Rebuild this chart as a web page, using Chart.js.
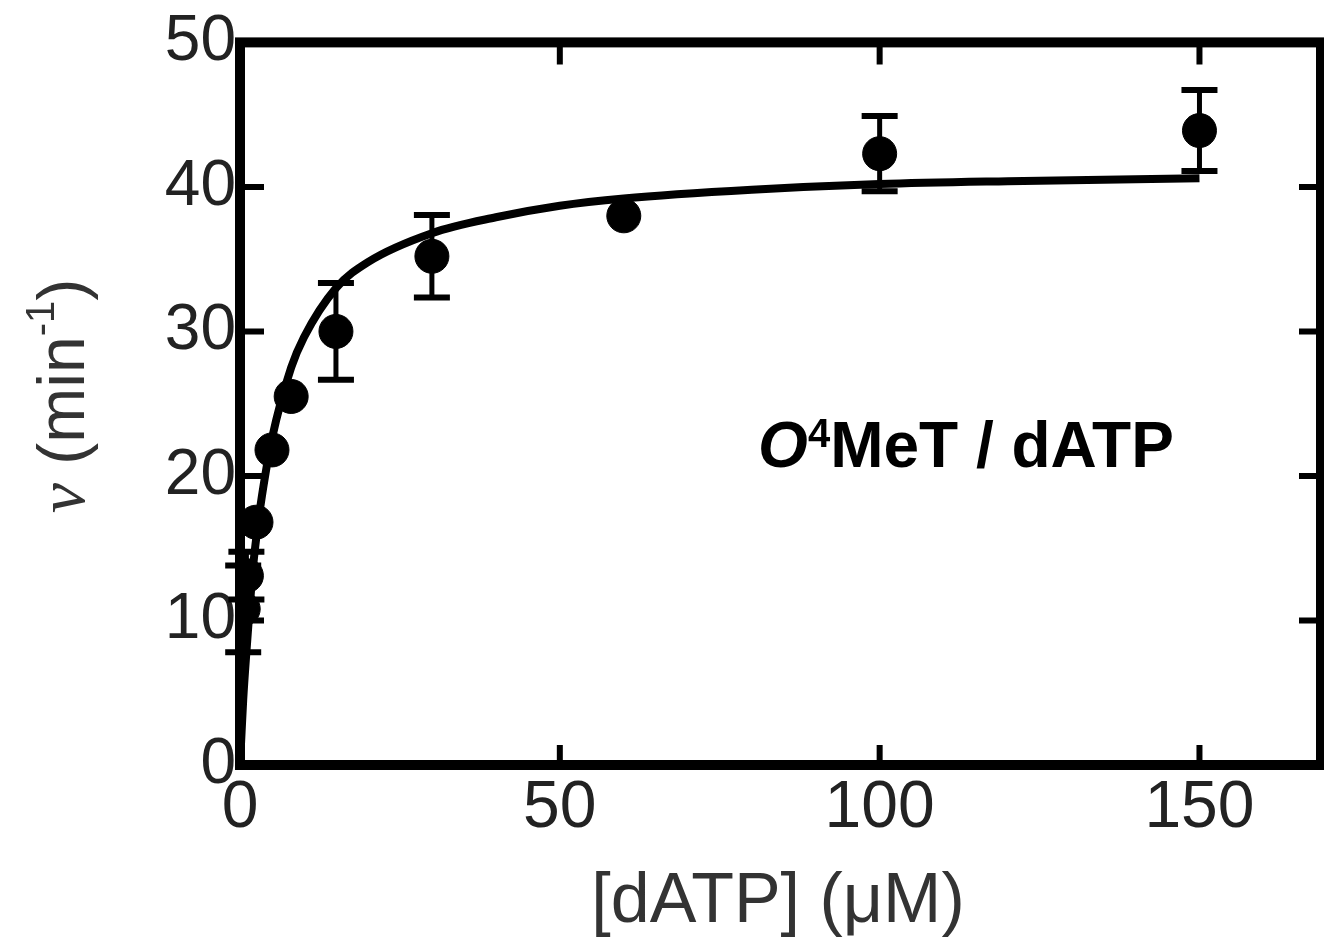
<!DOCTYPE html>
<html>
<head>
<meta charset="utf-8">
<style>
  html, body { margin: 0; padding: 0; background: #fff; }
</style>
<script src="https://cdn.jsdelivr.net/npm/chart.js@4/dist/chart.umd.min.js"></script>
</head>
<body>
<canvas id="kinetics" width="1324" height="944"></canvas>
<script>
// measured points: [dATP] (uM), rate v (1/min), error
const concentrations = [0.5, 1, 2.5, 5, 8, 15, 30, 60, 100, 150];
const rates = [10.8, 13.1, 16.8, 21.8, 25.5, 30.0, 35.2, 38.0, 42.3, 43.9];
const rateErrors = [3.0, 1.65, 0, 0, 0, 3.35, 2.85, 0, 2.6, 2.8];

// fitted curve
const fitX = [0, 0.25, 0.5, 1, 2, 3, 4, 5, 8, 10, 15, 20, 30, 40, 50, 60, 80, 100, 120, 150];
const fitY = [0, 2.3, 4.5, 7.8, 13.5, 17.3, 20.2, 22.6, 27.5, 29.6, 33.0, 34.8, 36.8, 37.9, 38.7, 39.2, 39.8, 40.2, 40.4, 40.6];

const xTicks = [0, 50, 100, 150];
const yTicks = [0, 10, 20, 30, 40, 50];

const FONT = "'Liberation Sans', Arial, sans-serif";

const toXY = (xs, ys) => xs.map((x, i) => ({ x: x, y: ys[i] }));

const figurePlugin = {
  id: "figure",
  afterDatasetsDraw(chart) {
    const ctx = chart.ctx;
    const xs = chart.scales.x;
    const ys = chart.scales.y;
    ctx.save();
    ctx.strokeStyle = "#000";
    ctx.lineCap = "butt";
    concentrations.forEach((c, i) => {
      const err = rateErrors[i];
      if (!err) return;
      const px = xs.getPixelForValue(c);
      const top = ys.getPixelForValue(rates[i] + err);
      const bot = ys.getPixelForValue(rates[i] - err);
      ctx.lineWidth = 5;
      ctx.beginPath();
      ctx.moveTo(px, top);
      ctx.lineTo(px, bot);
      ctx.stroke();
      ctx.lineWidth = 6;
      ctx.beginPath();
      ctx.moveTo(px - 18, top);
      ctx.lineTo(px + 18, top);
      ctx.moveTo(px - 18, bot);
      ctx.lineTo(px + 18, bot);
      ctx.stroke();
    });
    ctx.restore();
  },
  afterDraw(chart) {
    const ctx = chart.ctx;
    const a = chart.chartArea;
    const xs = chart.scales.x;
    const ys = chart.scales.y;
    ctx.save();

    // frame
    ctx.strokeStyle = "#000";
    ctx.lineWidth = 10;
    ctx.lineJoin = "miter";
    ctx.strokeRect(a.left, a.top, a.right - a.left, a.bottom - a.top);

    // inward ticks on all sides
    ctx.lineWidth = 6;
    ctx.beginPath();
    xTicks.forEach((t) => {
      if (t === 0) return;
      const px = xs.getPixelForValue(t);
      ctx.moveTo(px, a.bottom);
      ctx.lineTo(px, a.bottom - 20);
      ctx.moveTo(px, a.top);
      ctx.lineTo(px, a.top + 22);
    });
    yTicks.forEach((t) => {
      if (t === 0 || t === 50) return;
      const py = ys.getPixelForValue(t);
      ctx.moveTo(a.left, py);
      ctx.lineTo(a.left + 24, py);
      ctx.moveTo(a.right, py);
      ctx.lineTo(a.right - 22, py);
    });
    ctx.stroke();

    // x title
    ctx.fillStyle = "#333";
    ctx.font = "70px " + FONT;
    ctx.textAlign = "center";
    ctx.textBaseline = "alphabetic";
    ctx.fillText("[dATP] (\u03bcM)", 778, 922);

    // y title, rotated, with italic v and superscript
    ctx.translate(84, 396);
    ctx.rotate(-Math.PI / 2);
    ctx.textAlign = "left";
    const parts = [
      { t: "v", f: "italic 68px 'Liberation Serif', serif", dy: 0 },
      { t: " (min", f: "66px " + FONT, dy: 0 },
      { t: "-1", f: "40px " + FONT, dy: -30 },
      { t: ")", f: "66px " + FONT, dy: 0 },
    ];
    let w = 0;
    parts.forEach((p) => { ctx.font = p.f; w += ctx.measureText(p.t).width; });
    let x0 = -w / 2;
    parts.forEach((p) => {
      ctx.font = p.f;
      ctx.fillText(p.t, x0, p.dy);
      x0 += ctx.measureText(p.t).width;
    });
    ctx.restore();

    // annotation
    ctx.save();
    ctx.fillStyle = "#000";
    ctx.textAlign = "left";
    ctx.textBaseline = "alphabetic";
    let ax = xs.getPixelForValue(81);
    const ay = ys.getPixelForValue(20.6);
    const label = [
      { t: "O", f: "italic bold 64px " + FONT, dy: 0 },
      { t: "4", f: "bold 40px " + FONT, dy: -20 },
      { t: "MeT / dATP", f: "bold 64px " + FONT, dy: 0 },
    ];
    label.forEach((p) => {
      ctx.font = p.f;
      ctx.fillText(p.t, ax, ay + p.dy);
      ax += ctx.measureText(p.t).width;
    });
    ctx.restore();
  },
};

const ctx = document.getElementById("kinetics").getContext("2d");

const data = {
  datasets: [
    {
      type: "scatter",
      data: toXY(concentrations, rates),
      backgroundColor: "#000",
      borderColor: "#000",
      pointRadius: 17,
      pointHoverRadius: 17,
      order: 0,
    },
    {
      type: "line",
      data: toXY(fitX, fitY),
      borderColor: "#000",
      borderWidth: 8,
      pointRadius: 0,
      cubicInterpolationMode: "monotone",
      fill: false,
      order: 1,
    },
  ],
};

const options = {
  responsive: false,
  animation: false,
  devicePixelRatio: 1,
  layout: { autoPadding: false, padding: { left: 0, top: 40, right: 3, bottom: 0 } },
  plugins: {
    legend: { display: false },
    tooltip: { enabled: false },
  },
  scales: {
    x: {
      type: "linear",
      min: 0,
      max: 169,
      afterBuildTicks: (scale) => { scale.ticks = xTicks.map((v) => ({ value: v })); },
      afterFit: (scale) => { scale.height = 179; },
      grid: { display: false, drawTicks: false },
      border: { display: false },
      ticks: {
        padding: 4,
        color: "#222",
        font: { family: FONT, size: 66 },
        maxRotation: 0,
      },
    },
    y: {
      type: "linear",
      min: 0,
      max: 50,
      afterBuildTicks: (scale) => { scale.ticks = yTicks.map((v) => ({ value: v })); },
      afterFit: (scale) => { scale.width = 240; },
      grid: { display: false, drawTicks: false },
      border: { display: false },
      ticks: {
        padding: 4,
        color: "#222",
        font: { family: FONT, size: 64 },
      },
    },
  },
};

new Chart(ctx, {
  type: "scatter",
  data: data,
  options: options,
  plugins: [figurePlugin],
});
</script>
</body>
</html>
